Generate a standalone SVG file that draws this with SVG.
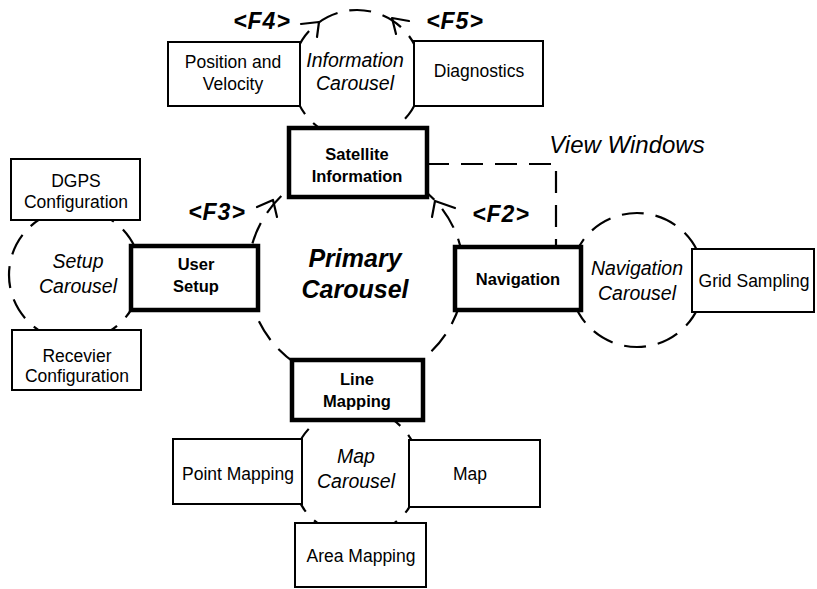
<svg xmlns="http://www.w3.org/2000/svg" width="817" height="589" viewBox="0 0 817 589">
<style>
text{font-family:"Liberation Sans",Arial,sans-serif;fill:#000;text-anchor:middle}
.lbl{font-size:17.5px}
.blbl{font-size:16.5px;font-weight:bold}
.car{font-size:19.5px;font-style:italic}
.fk{font-size:23px;font-weight:bold;font-style:italic;letter-spacing:1px}
.box{fill:#fff;stroke:#000;stroke-width:2}
.tbox{fill:#fff;stroke:#000;stroke-width:4.5}
.dash{fill:none;stroke:#000;stroke-width:2.2;stroke-dasharray:22 12}
.arr{fill:none;stroke:#000;stroke-width:2.2;stroke-linecap:round;stroke-linejoin:round}
</style>
<rect width="817" height="589" fill="#fff"/>
<g id="connectors">
<circle class="dash" cx="357" cy="75" r="65" stroke-dashoffset="8"/>
<circle class="dash" cx="356" cy="274" r="108" stroke-dashoffset="4"/>
<circle class="dash" cx="75" cy="275" r="66" stroke-dashoffset="10"/>
<circle class="dash" cx="637" cy="280" r="67" stroke-dashoffset="6"/>
<circle class="dash" cx="356" cy="472" r="64" stroke-dashoffset="12"/>
<polyline class="dash" points="427,164 556,164 556,247" stroke-dasharray="26 18"/>
<polyline class="arr" points="257,207 273,200 277,217"/>
<polyline class="arr" points="455,208 435,201 432,217"/>
<polyline class="arr" points="301,24 319,22 317,37"/>
<polyline class="arr" points="409,21 392,18 396,34"/>
</g>
<g id="fkeys">
<text class="fk" x="262" y="29">&lt;F4&gt;</text>
<text class="fk" x="455" y="29">&lt;F5&gt;</text>
<text class="fk" x="217" y="220">&lt;F3&gt;</text>
<text class="fk" x="501" y="222">&lt;F2&gt;</text>
</g>
<text id="view-windows" x="627" y="153" style="font-size:24px;font-style:italic">View Windows</text>
<g id="primary-carousel">
<text x="355" y="267" style="font-size:25px;font-weight:bold;font-style:italic">Primary</text>
<text x="355" y="298" style="font-size:25px;font-weight:bold;font-style:italic">Carousel</text>
</g>
<g id="information-carousel"><text class="car" x="355" y="67">Information</text><text class="car" x="355" y="90">Carousel</text></g>
<g id="setup-carousel"><text class="car" x="78" y="268">Setup</text><text class="car" x="78" y="293">Carousel</text></g>
<g id="navigation-carousel"><text class="car" x="637" y="275">Navigation</text><text class="car" x="637" y="300">Carousel</text></g>
<g id="map-carousel"><text class="car" x="356" y="463">Map</text><text class="car" x="356" y="488">Carousel</text></g>
<g id="position-velocity"><rect class="box" x="168" y="42" width="132" height="64"/><text class="lbl" x="233" y="68">Position and</text><text class="lbl" x="233" y="90">Velocity</text></g>
<g id="diagnostics"><rect class="box" x="414" y="41" width="129" height="65"/><text class="lbl" x="479" y="77">Diagnostics</text></g>
<g id="satellite-information"><rect class="tbox" x="289" y="128" width="138" height="69"/><text class="blbl" x="357" y="160">Satellite</text><text class="blbl" x="357" y="182">Information</text></g>
<g id="dgps-configuration"><rect class="box" x="11" y="159" width="129" height="61"/><text class="lbl" x="76" y="187">DGPS</text><text class="lbl" x="76" y="208">Configuration</text></g>
<g id="user-setup"><rect class="tbox" x="131" y="246" width="127" height="64"/><text class="blbl" x="196" y="270">User</text><text class="blbl" x="196" y="292">Setup</text></g>
<g id="receiver-configuration"><rect class="box" x="12" y="330" width="129" height="60"/><text class="lbl" x="77" y="362">Recevier</text><text class="lbl" x="77" y="382">Configuration</text></g>
<g id="navigation"><rect class="tbox" x="455" y="247" width="126" height="63"/><text class="blbl" x="518" y="285">Navigation</text></g>
<g id="grid-sampling"><rect class="box" x="692" y="249" width="122" height="63"/><text class="lbl" x="754" y="287">Grid Sampling</text></g>
<g id="line-mapping"><rect class="tbox" x="292" y="360" width="131" height="60"/><text class="blbl" x="357" y="385">Line</text><text class="blbl" x="357" y="407">Mapping</text></g>
<g id="point-mapping"><rect class="box" x="173" y="439" width="129" height="65"/><text class="lbl" x="238" y="480">Point Mapping</text></g>
<g id="map"><rect class="box" x="409" y="440" width="131" height="67"/><text class="lbl" x="470" y="480">Map</text></g>
<g id="area-mapping"><rect class="box" x="295" y="523" width="131" height="64"/><text class="lbl" x="361" y="562">Area Mapping</text></g>
</svg>
